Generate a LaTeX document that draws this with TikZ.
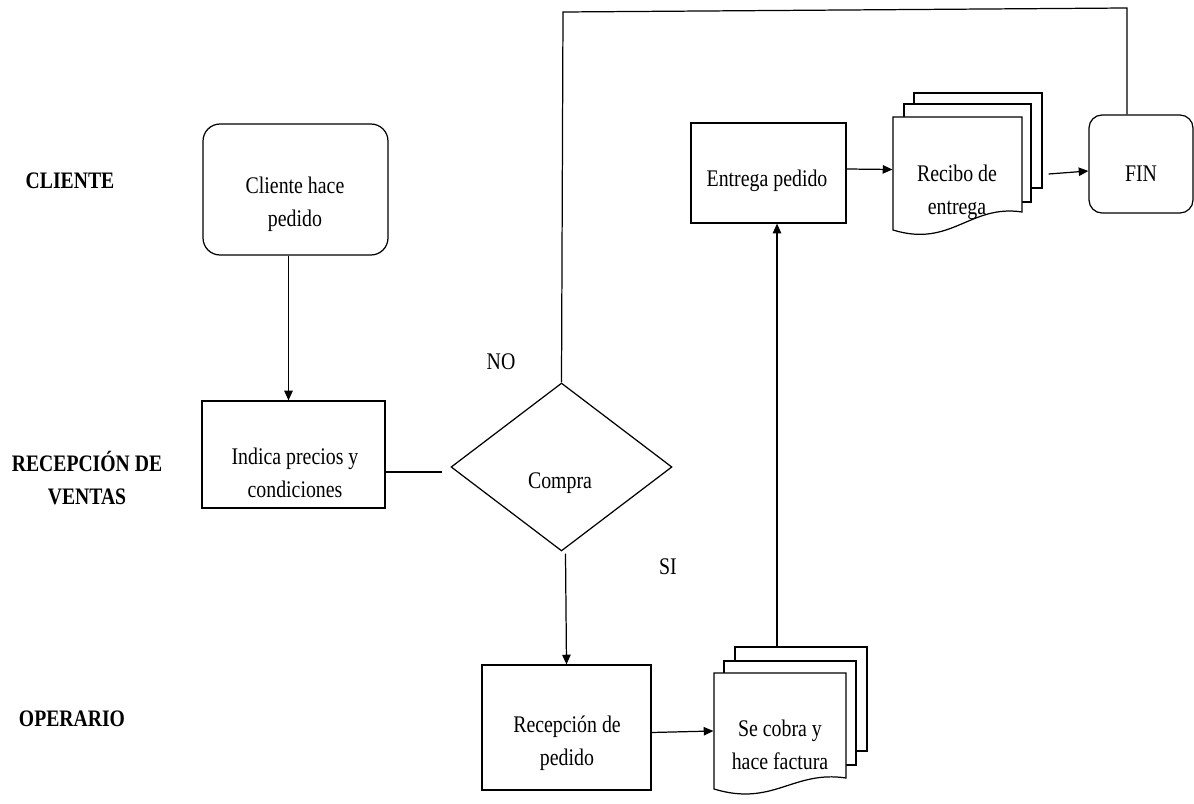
\documentclass[tikz,border=0pt]{standalone}
\usepackage{fontspec}
\usepackage{graphicx}
\setmainfont{Liberation Serif}
\usetikzlibrary{arrows.meta,shapes.geometric}
\newcommand\stxt[1]{\scalebox{1}[1.2]{\begin{tabular}{@{}c@{}}#1\end{tabular}}}
\begin{document}
\begin{tikzpicture}[x=0.02cm,y=-0.02cm,
  line width=0.7pt,
  txt/.style={font=\fontsize{11.3}{15.6}\selectfont, align=center, inner sep=0pt},
  lane/.style={font=\fontsize{11.2}{15.6}\selectfont\bfseries, align=center, inner sep=0pt},
  procbox/.style={draw, rectangle, inner sep=0pt},
  termbox/.style={draw, rectangle, rounded corners=#1, inner sep=0pt},
  ghost/.style={rectangle, inner sep=0pt},
  decision/.style={draw, diamond, inner sep=0pt},
  arr/.style={-{Triangle[length=5.5pt,width=4.8pt]}},
  page/.style={draw, fill=white, line join=miter}
]
\useasboundingbox (0,0) rectangle (1194,804);

% lane labels
\node[lane] (lclient) at (70,182) {\stxt{CLIENTE}};
\node[lane] (lventas) at (87,481) {\stxt{RECEPCIÓN DE\\VENTAS}};
\node[lane] (loper) at (72,720) {\stxt{OPERARIO}};

% Cliente hace pedido
\node[termbox=0.34cm, minimum width=3.70cm, minimum height=2.62cm] (cliente) at (295.5,189.5) {};
\node[txt] (tcliente) at (295,203) {\stxt{Cliente hace\\pedido}};

% Indica precios
\node[procbox, minimum width=3.66cm, minimum height=2.14cm] (indica) at (293.5,454.5) {};
\node[txt] (tindica) at (295,474) {\stxt{Indica precios y\\condiciones}};

% Compra decision
\node[decision, minimum width=4.42cm, minimum height=3.36cm] (compra) at (561.5,467) {};
\node[txt] (tcompra) at (560,482) {\stxt{Compra}};
\node[txt] (no) at (501,363) {\stxt{NO}};
\node[txt] (si) at (668,568) {\stxt{SI}};

% Recepcion de pedido
\node[procbox, minimum width=3.38cm, minimum height=2.5cm] (recep) at (566.5,727.5) {};
\node[txt] (trecep) at (567,742) {\stxt{Recepción de\\pedido}};

% Se cobra y hace factura (multi document)
\draw[page] (735,661) -- (735,647) -- (867,647) -- (867,751) -- (856,751);
\draw[page] (724,673) -- (724,661) -- (856,661) -- (856,765) -- (846,765);
\draw[page] (714,673) -- (846,673) -- (846,778)
   .. controls (793,770) and (773,807) .. (714,789) -- cycle;
\node[ghost, minimum width=2.64cm, minimum height=2.32cm] (secobra) at (780,731) {};
\node[ghost, minimum width=3.06cm, minimum height=2.84cm] (secobraall) at (790.5,718) {};
\node[txt] (tsecobra) at (780,746) {\stxt{Se cobra y\\hace factura}};

% Entrega pedido
\node[procbox, minimum width=3.1cm, minimum height=2cm] (entrega) at (768.5,173) {};
\node[txt] (tentrega) at (767,180) {\stxt{Entrega pedido}};

% Recibo de entrega (multi document)
\draw[page] (914,104) -- (914,93) -- (1042,93) -- (1042,188) -- (1031,188);
\draw[page] (904,117) -- (904,104) -- (1031,104) -- (1031,202) -- (1022,202);
\draw[page] (893,117) -- (1022,117) -- (1022,212)
   .. controls (970,204) and (951,248) .. (893,230) -- cycle;
\node[ghost, minimum width=2.58cm, minimum height=2.26cm] (recibo) at (957.5,173.5) {};
\node[ghost, minimum width=2.98cm, minimum height=2.74cm] (reciboall) at (967.5,161.5) {};
\node[txt] (trecibo) at (957,191) {\stxt{Recibo de\\entrega}};

% FIN
\node[termbox=0.26cm, minimum width=2.08cm, minimum height=1.96cm] (fin) at (1141,164) {};
\node[txt] (tfin) at (1141,175) {\stxt{FIN}};

% connectors
\coordinate (c1) at ([xshift=-0.14cm]cliente.south);
\draw[arr] (c1) -- (c1 |- indica.north);

\coordinate (iout) at ([yshift=-0.35cm]indica.east);
\path (compra.west) ++(-8,0) coordinate (cin);
\draw (iout) -- (cin |- iout);

\coordinate (loopL) at (563,12);
\coordinate (loopR) at (1127,8);
\draw (compra.north) -- (loopL) -- (loopR) -- (loopR |- fin.north);

\coordinate (c2) at ([xshift=0.08cm,yshift=-0.04cm]compra.south);
\draw[arr] (c2) -- (recep.north);

\draw[arr] ([yshift=-0.1cm]recep.east) -- (secobra.west);

\coordinate (up1) at ([xshift=-0.27cm]secobraall.north);
\draw[arr] (up1) -- (up1 |- entrega.south);

\draw[arr] ([yshift=0.08cm]entrega.east) -- ([yshift=0.08cm]recibo.west);

\draw[arr] ([xshift=0.12cm,yshift=-0.25cm]reciboall.east) -- ([yshift=-0.14cm]fin.west);
\end{tikzpicture}
\end{document}
